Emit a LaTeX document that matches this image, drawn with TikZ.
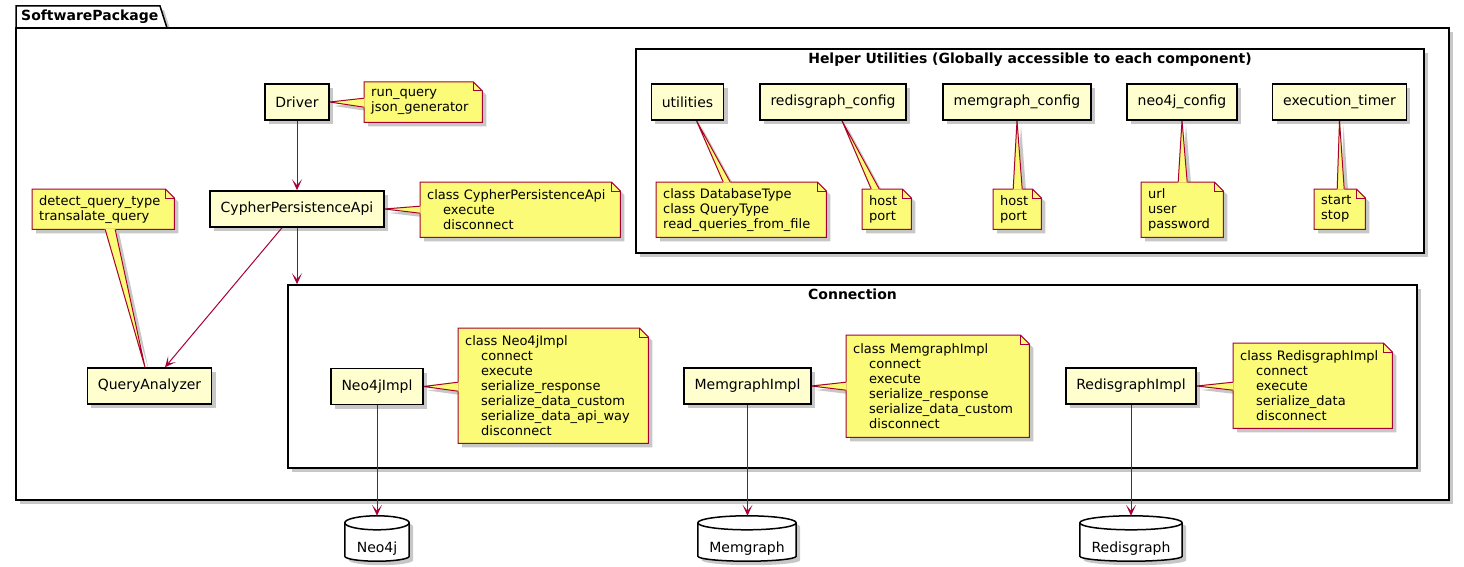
\documentclass[tikz,border=0pt]{standalone}
\usepackage{fontspec}
\setmainfont{DejaVu Sans}
\usepackage{tikz}
\usetikzlibrary{arrows.meta}
\usetikzlibrary{calc}
\usetikzlibrary{shadows}

\definecolor{compfill}{HTML}{FEFECE}
\definecolor{notefill}{HTML}{FBFB77}
\definecolor{notered}{HTML}{A80036}

\pgfdeclarelayer{back}
\pgfdeclarelayer{paper}
\pgfsetlayers{back,paper,main}

\tikzset{
    softshadow/.style={drop shadow={shadow xshift=4pt, shadow yshift=-4pt, opacity=0.22, fill=black}},
    comp/.style={draw, line width=1.5pt, fill=compfill, softshadow, minimum height=36pt, inner xsep=10.5pt, font=\fontsize{14}{16}\selectfont},
    framebox/.style={draw, line width=1.5pt, fill=white, softshadow, inner sep=0pt},
    frametitle/.style={font=\fontsize{14}{16}\selectfont\bfseries, inner sep=0pt},
    notetext/.style 2 args={anchor=north west, inner xsep=7pt, inner ysep=0pt, align=left, text width=#1, minimum height=#2, font=\fontsize{13}{15}\selectfont},
    notepaper/.style={fill=notefill, draw=notered, line width=1pt, softshadow},
    flow/.style={draw=notered, line width=1pt, -{Stealth[length=11pt, width=10pt, inset=6pt]}},
    db/.style={inner sep=0pt, minimum height=45pt, label={[font=\fontsize{14}{16}\selectfont, yshift=-10pt]center:#1}},
    drumpaper/.style={draw, line width=1.5pt, fill=white, softshadow},
}

% note with folded corner and a wedge pointing at #2
\newcommand\pinnote[4]{%
    \begin{pgfonlayer}{paper}
        \fill[notefill, softshadow] (#2) -- (#3) -- (#4) -- cycle;
        \path[notepaper] (#1.north west) -- ([xshift=-9pt]#1.north east) -- ([yshift=-9pt]#1.north east) -- (#1.south east) -- (#1.south west) -- cycle;
        \draw[notered, line width=1pt] ([xshift=-9pt]#1.north east) |- ([yshift=-9pt]#1.north east);
        \filldraw[fill=notefill, draw=notefill, line width=1pt, line join=round] (#2) -- (#3) -- (#4) -- cycle;
        \draw[notered, line width=1pt] (#3) -- (#2) -- (#4);
    \end{pgfonlayer}}
% database drum round a db node
\newcommand\drum[1]{%
    \begin{pgfonlayer}{paper}
        \path[drumpaper] let \p1=(#1.north west), \p2=(#1.south east), \n1={(\x2-\x1)/2} in
            (\x1,\y1-7pt) arc[start angle=180, end angle=0, x radius=\n1, y radius=7pt]
            -- (\x2,\y2+5pt) arc[start angle=0, end angle=-180, x radius=\n1, y radius=5pt] -- cycle;
        \draw[line width=1.5pt] let \p1=(#1.north west), \p2=(#1.south east), \n1={(\x2-\x1)/2} in
            (\x1,\y1-7pt) arc[start angle=180, end angle=360, x radius=\n1, y radius=7pt];
    \end{pgfonlayer}}
\newcommand\ind{\hspace*{16pt}}

\begin{document}
\begin{tikzpicture}[x=1pt, y=-1pt]
    \useasboundingbox (0,0) rectangle (1464,567);
    \begin{pgfonlayer}{back}
        \path[draw, line width=1.5pt, fill=white, softshadow] (16,28) -- (16,6) -- (160,6) -- (167,28) -- cycle;
        \node[framebox, minimum width=1433pt, minimum height=472pt] (pkg) at (732.5,264) {};
        \node[framebox, minimum width=788pt, minimum height=204pt] (helper) at (1030,151) {};
        \node[framebox, minimum width=1129pt, minimum height=183pt] (conn) at (852.5,376.5) {};
    \end{pgfonlayer}
    \node[frametitle, anchor=west] (pkgtitle) at (21,17) {SoftwarePackage};
    \node[frametitle, anchor=north] (helpertitle) at ([yshift=-4.5pt]helper.north) {Helper Utilities (Globally accessible to each component)};
    \node[frametitle, anchor=north] (conntitle) at ([yshift=-4.5pt]conn.north) {Connection};

    \node[comp] (driver) at (297,102) {Driver};
    \node[comp] (cpa) at (297,209) {CypherPersistenceApi};
    \node[comp] (qa) at (149.5,386) {QueryAnalyzer};

    \node[comp] (util) at (687.5,102) {utilities};
    \node[comp] (rcfg) at (833,102) {redisgraph\_config};
    \node[comp] (mcfg) at (1017,102) {memgraph\_config};
    \node[comp] (ncfg) at (1182,102) {neo4j\_config};
    \node[comp] (timer) at (1339.5,102) {execution\_timer};

    \node[comp] (neo4jimpl) at (377,386.5) {Neo4jImpl};
    \node[comp] (memimpl) at (747.5,386) {MemgraphImpl};
    \node[comp] (redisimpl) at (1131,386) {RedisgraphImpl};

    \node[db=Neo4j, minimum width=64pt] (neo4jdb) at (377,538.5) {};
    \node[db=Memgraph, minimum width=98pt] (memdb) at (747,538.5) {};
    \node[db=Redisgraph, minimum width=102pt] (redisdb) at (1131,538.5) {};
    \drum{neo4jdb}
    \drum{memdb}
    \drum{redisdb}

    \node[notetext={104pt}{40pt}] (drvnote) at (364,82) {run\_query\\json\_generator};
    \node[notetext={186pt}{55pt}] (cpanote) at (420,182) {class CypherPersistenceApi\\\ind execute\\\ind disconnect};
    \node[notetext={128pt}{40pt}] (qanote) at (32,189) {detect\_query\_type\\transalate\_query};
    \node[notetext={156pt}{55pt}] (utilnote) at (656,182) {class DatabaseType\\class QueryType\\read\_queries\_from\_file};
    \node[notetext={35pt}{40pt}] (rcfgnote) at (862,189) {host\\port};
    \node[notetext={34pt}{40pt}] (mcfgnote) at (993,189) {host\\port};
    \node[notetext={68pt}{55pt}] (ncfgnote) at (1141,182) {url\\user\\password};
    \node[notetext={37pt}{40pt}] (timernote) at (1314,189) {start\\stop};
    \node[notetext={176pt}{115pt}] (neo4jnote) at (458,328) {class Neo4jImpl\\\ind connect\\\ind execute\\\ind serialize\_response\\\ind serialize\_data\_custom\\\ind serialize\_data\_api\_way\\\ind disconnect};
    \node[notetext={169pt}{102pt}] (memnote) at (846,335) {class MemgraphImpl\\\ind connect\\\ind execute\\\ind serialize\_response\\\ind serialize\_data\_custom\\\ind disconnect};
    \node[notetext={145pt}{85pt}] (redisnote) at (1233,343) {class RedisgraphImpl\\\ind connect\\\ind execute\\\ind serialize\_data\\\ind disconnect};

    \pinnote{drvnote}{driver.east}{[yshift=4pt]drvnote.west}{[yshift=-5pt]drvnote.west}
    \pinnote{cpanote}{cpa.east}{[yshift=3.5pt]cpanote.west}{[yshift=-3.5pt]cpanote.west}
    \pinnote{qanote}{[xshift=-4.5pt]qa.north}{[xshift=2pt]qanote.south}{[xshift=12pt]qanote.south}
    \pinnote{utilnote}{[xshift=9pt]util.south}{[xshift=-18pt]utilnote.north}{[xshift=-11pt]utilnote.north}
    \pinnote{rcfgnote}{[xshift=9pt]rcfg.south}{[xshift=-15.5pt]rcfgnote.north}{[xshift=-7.5pt]rcfgnote.north}
    \pinnote{mcfgnote}{mcfg.south}{[xshift=-4pt]mcfgnote.north}{[xshift=5pt]mcfgnote.north}
    \pinnote{ncfgnote}{ncfg.south}{[xshift=-4pt]ncfgnote.north}{[xshift=5pt]ncfgnote.north}
    \pinnote{timernote}{timer.south}{[xshift=-2.5pt]timernote.north}{[xshift=4.5pt]timernote.north}
    \pinnote{neo4jnote}{neo4jimpl.east}{[yshift=3.5pt]neo4jnote.west}{[yshift=-5.5pt]neo4jnote.west}
    \pinnote{memnote}{memimpl.east}{[yshift=4pt]memnote.west}{[yshift=-4pt]memnote.west}
    \pinnote{redisnote}{redisimpl.east}{[yshift=3.5pt]redisnote.west}{[yshift=-4.5pt]redisnote.west}

    \draw[flow] (driver) -- (cpa);
    \draw[flow] ([xshift=-15pt]cpa.south) -- ([xshift=15.5pt]qa.north);
    \draw[flow] (cpa.south) -- (cpa.south |- conn.north);
    \draw[flow] (neo4jimpl.south) -- (neo4jimpl.south |- neo4jdb.north);
    \draw[flow] (memimpl.south) -- (memimpl.south |- memdb.north);
    \draw[flow] (redisimpl.south) -- (redisimpl.south |- redisdb.north);
\end{tikzpicture}
\end{document}
